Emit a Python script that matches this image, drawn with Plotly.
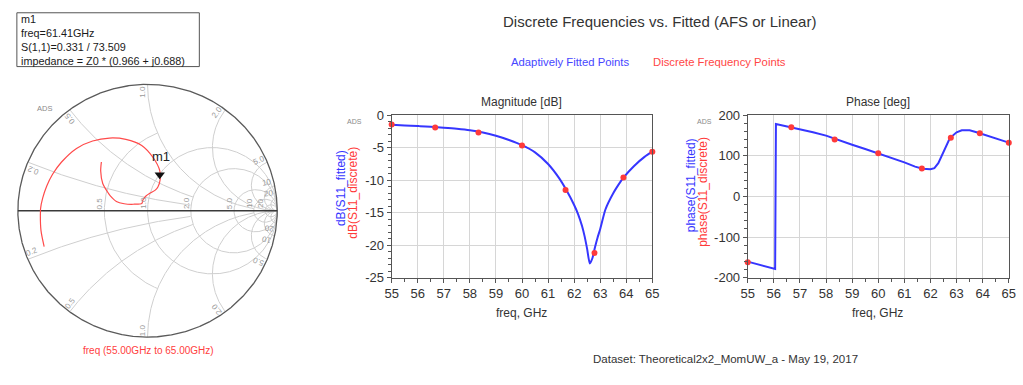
import numpy as np
import plotly.graph_objects as go

W, H = 1023, 385

# ---- fitted S11 (adaptive frequency sampling) ----
freq_fit = [55.0, 55.5, 56.0, 56.05, 56.08, 56.5, 57.0, 57.5, 58.0, 58.5, 59.0, 59.5,
            60.0, 60.5, 61.0, 61.41, 61.7, 62.0, 62.15, 62.3, 62.4, 62.5, 62.6, 62.7,
            62.8, 62.9, 63.0, 63.2, 63.5, 63.8, 63.89, 64.3, 64.7, 65.0]
mag_fit_db = [-1.45, -1.55, -1.65, -1.66, -1.67, -1.78, -1.92, -2.08, -2.3, -2.65, -3.15, -3.8,
              -4.6, -5.7, -7.5, -9.6, -11.5, -13.8, -15.2, -17.0, -18.6, -20.6, -22.8, -22.0,
              -20.3, -18.8, -17.5, -14.5, -12.0, -10.1, -9.6, -7.8, -6.4, -5.6]
phase_fit_deg = [-160.4, -169.0, -177.8, -178.6, 178.8, 173.0, 166.0, 158.5, 150.0, 138.0, 127.5, 117.0,
                 106.5, 95.0, 84.0, 73.5, 68.5, 67.0, 70.0, 82.0, 96.0, 112.0, 127.0, 138.0,
                 147.0, 153.0, 158.0, 163.0, 163.0, 157.5, 155.5, 148.0, 139.0, 132.7]

# ---- discrete frequency points ----
freq_disc = [55.0, 56.67, 58.33, 60.0, 61.67, 62.78, 63.89, 65.0]
mag_disc_db = [-1.43, -1.87, -2.66, -4.65, -11.5, -21.2, -9.57, -5.62]
phase_disc_deg = [-162.0, 170.7, 140.6, 106.5, 69.3, 144.6, 155.6, 132.7]

# ---- axis ticks ----
freq_ticks = [55, 56, 57, 58, 59, 60, 61, 62, 63, 64, 65]
mag_ticks = [0, -5, -10, -15, -20, -25]
phase_ticks = [200, 100, 0, -100, -200]

# ---- marker m1 ----
m1_freq = 61.41
m1_mag = 0.331
m1_phase = 73.509
m1_z = (0.966, 0.688)

# ---- Smith chart grid values ----
r_circles = [0.5, 1, 2, 5, 10, 20]
r_limits = [1, 1e9, 1e9, 1e9, 1e9, 1e9]          # max |x| drawn on each circle
x_arcs = [0.2, 0.5, 1, 2, 5, 10, 20]
x_limits = [2, 2, 10, 1e9, 1e9, 1e9, 1e9]         # max r drawn on each arc
r_labels = ["0.5", "1.0", "2.0", "5.0", "10", "20"]
x_labels = ["0.2", "0.5", "1.0", "2.0", "5.0", "10", "20"]

FONT = "Liberation Sans, Arial, sans-serif"
BLUE = "#3636ff"
RED = "#ff3a3a"
GRID = "#cfcfcf"


def px(x):
    return x / W


def py(y):
    return 1 - y / H


# Smith chart placement (pixels)
SC_CX, SC_CY, SC_R = 142.5, 212.0, 131.5
SPAN = 1.06


def runs(xs, ys, mask):
    ox, oy = [], []
    prev = False
    for a, b, m in zip(xs, ys, mask):
        if m:
            ox.append(a)
            oy.append(b)
        elif prev:
            ox.append(None)
            oy.append(None)
        prev = m
    ox.append(None)
    oy.append(None)
    return ox, oy


gx, gy = [], []
th = np.linspace(0, 2 * np.pi, 3001)
with np.errstate(divide="ignore", invalid="ignore"):
    for r, lim in zip(r_circles, r_limits):
        g = r / (1 + r) + np.exp(1j * th) / (1 + r)
        z = (1 + g) / (1 - g)
        mask = np.abs(z.imag) <= lim
        a, b = runs(g.real, g.imag, mask)
        gx += a
        gy += b
    for xv, lim in zip(x_arcs, x_limits):
        for s in (1, -1):
            g = 1 + 1j * s / xv + np.exp(1j * th) / xv
            z = (1 + g) / (1 - g)
            mask = (np.abs(g) <= 1.0) & (z.real <= lim) & (z.real >= -1e-9)
            a, b = runs(g.real, g.imag, mask)
            gx += a
            gy += b

fig = go.Figure()

fig.add_trace(go.Scatter(x=gx, y=gy, mode="lines", line=dict(color=GRID, width=1),
                         hoverinfo="skip", xaxis="x", yaxis="y"))
fig.add_trace(go.Scatter(x=np.cos(th), y=np.sin(th), mode="lines",
                         line=dict(color="#5a5a5a", width=1.3), hoverinfo="skip",
                         xaxis="x", yaxis="y"))
fig.add_trace(go.Scatter(x=[-1, 1], y=[0, 0], mode="lines",
                         line=dict(color="#3a3a3a", width=1.3), hoverinfo="skip",
                         xaxis="x", yaxis="y"))

# S11 trajectory on the Smith chart
mag_lin = 10 ** (np.array(mag_fit_db) / 20)
ph = np.radians(phase_fit_deg)
fig.add_trace(go.Scatter(x=mag_lin * np.cos(ph), y=mag_lin * np.sin(ph), mode="lines",
                         line=dict(color="#ff4a4a", width=1.2, shape="spline", smoothing=0.8),
                         xaxis="x", yaxis="y"))
m1_g = m1_mag * np.exp(1j * np.radians(m1_phase))
fig.add_trace(go.Scatter(x=[m1_g.real], y=[m1_g.imag], mode="markers",
                         marker=dict(symbol="triangle-down", size=9, color="#111", standoff=4),
                         xaxis="x", yaxis="y"))

# Magnitude panel
fig.add_trace(go.Scatter(x=freq_fit, y=mag_fit_db, mode="lines",
                         line=dict(color=BLUE, width=2, shape="spline", smoothing=0.6),
                         xaxis="x2", yaxis="y2"))
fig.add_trace(go.Scatter(x=freq_disc, y=mag_disc_db, mode="markers",
                         marker=dict(color=RED, size=6), cliponaxis=False,
                         xaxis="x2", yaxis="y2"))
# Phase panel
fig.add_trace(go.Scatter(x=freq_fit, y=phase_fit_deg, mode="lines",
                         line=dict(color=BLUE, width=2),
                         xaxis="x3", yaxis="y3"))
fig.add_trace(go.Scatter(x=freq_disc, y=phase_disc_deg, mode="markers",
                         marker=dict(color=RED, size=6), cliponaxis=False,
                         xaxis="x3", yaxis="y3"))

half = SPAN * SC_R
smith_x = dict(domain=[px(SC_CX - half), px(SC_CX + half)], range=[-SPAN, SPAN],
               visible=False, fixedrange=True)
smith_y = dict(domain=[py(SC_CY + half), py(SC_CY - half)], range=[-SPAN, SPAN],
               visible=False, fixedrange=True)


def axis_common(ticks, mdt):
    return dict(tickmode="array", tickvals=ticks, ticktext=[str(t) for t in ticks],
                showgrid=True, gridcolor="#d6d6d6", gridwidth=1, zeroline=False,
                showline=True, linecolor="#555", linewidth=1, mirror=True,
                ticks="outside", ticklen=4, tickcolor="#555",
                minor=dict(tickmode="linear", dtick=mdt, ticks="outside", ticklen=3,
                           tickcolor="#555", showgrid=False),
                tickfont=dict(family=FONT, size=13, color="#333"))


def cart_x(domain, anchor):
    d = axis_common(freq_ticks, 0.5)
    d.update(domain=domain, anchor=anchor, range=[55, 65])
    d["minor"]["tick0"] = 55
    return d


def cart_y(domain, anchor, ticks, mdt):
    d = axis_common(ticks, mdt)
    d.update(domain=domain, anchor=anchor, range=[min(ticks), max(ticks)])
    d["minor"]["tick0"] = 0
    return d


ydom = [py(281.7), py(112.7)]

ann = []


def text(x, y, s, size, color="#333", angle=0, xanchor="center", **kw):
    ann.append(dict(x=px(x), y=py(y), xref="paper", yref="paper", text=s, showarrow=False,
                    font=dict(family=FONT, size=size, color=color), textangle=angle,
                    xanchor=xanchor, yanchor="middle", **kw))


# Smith grid labels along the real axis
for r, lab in zip(r_circles, r_labels):
    gr = (r - 1) / (r + 1)
    text(SC_CX + gr * SC_R - 5, SC_CY - 8, lab, 8, "#9a9a9a", angle=-90)

# Smith grid labels around the rim
for xv, lab in zip(x_arcs, x_labels):
    phi = np.degrees(np.arctan2(2 * xv, xv * xv - 1))
    for s in (1, -1):
        a = np.radians(s * (phi + 2.5))
        rr = 0.945
        lx = SC_CX + rr * SC_R * np.cos(a)
        ly = SC_CY - rr * SC_R * np.sin(a)
        ang = -phi if s > 0 else -(180 - phi)
        text(lx, ly, lab, 8, "#9a9a9a", angle=ang)

text(38, 106, "ADS", 7.5, "#8a8a8a")
text(352, 119, "ADS", 7, "#8a8a8a")
text(707, 119, "ADS", 7, "#8a8a8a")

text(156, 156, "m1", 13, "#222")
text(143, 357, "freq (55.00GHz to 65.00GHz)", 10, "#ff4040")

# marker readout box
box_lines = ["m1", f"freq={m1_freq:.2f}GHz", f"S(1,1)={m1_mag:.3f} / {m1_phase:.3f}",
             f"impedance = Z0 * ({m1_z[0]:.3f} + j{m1_z[1]:.3f})"]
ann.append(dict(x=px(12), y=py(34), xref="paper", yref="paper", text="<br>".join(box_lines),
                showarrow=False, align="left", xanchor="left", yanchor="middle",
                font=dict(family=FONT, size=10.8, color="#1a1a1a")))

text(662, 15, "Discrete Frequencies vs. Fitted (AFS or Linear)", 15, "#333")
text(571, 57, "Adaptively Fitted Points", 11.3, "#4646ff")
text(722, 57, "Discrete Frequency Points", 11.3, "#ff4646")
text(522, 99, "Magnitude [dB]", 12, "#333")
text(883, 99, "Phase [deg]", 12, "#333")
text(522, 318, "freq, GHz", 12, "#333")
text(883, 318, "freq, GHz", 12, "#333")
text(338, 188, "dB(S11_fitted)", 12, BLUE, angle=-90)
text(351, 193, "dB(S11_discrete)", 12, RED, angle=-90)
text(693, 186, "phase(S11_fitted)", 12, BLUE, angle=-90)
text(705, 192, "phase(S11_discrete)", 12, RED, angle=-90)
text(728, 366, "Dataset: Theoretical2x2_MomUW_a - May 19, 2017", 11.5, "#333")

shapes = [dict(type="rect", xref="paper", yref="paper", x0=px(10), x1=px(195),
               y0=py(62), y1=py(6), line=dict(color="#555", width=1))]

fig.update_layout(
    width=W, height=H, margin=dict(l=0, r=0, t=0, b=0),
    paper_bgcolor="white", plot_bgcolor="white", showlegend=False,
    font=dict(family=FONT),
    xaxis=smith_x, yaxis=smith_y,
    xaxis2=cart_x([px(390), px(654.3)], "y2"),
    yaxis2=cart_y(ydom, "x2", mag_ticks, 1),
    xaxis3=cart_x([px(751), px(1015.7)], "y3"),
    yaxis3=cart_y(ydom, "x3", phase_ticks, 20),
    annotations=ann, shapes=shapes,
)

fig.write_html("out.html")
